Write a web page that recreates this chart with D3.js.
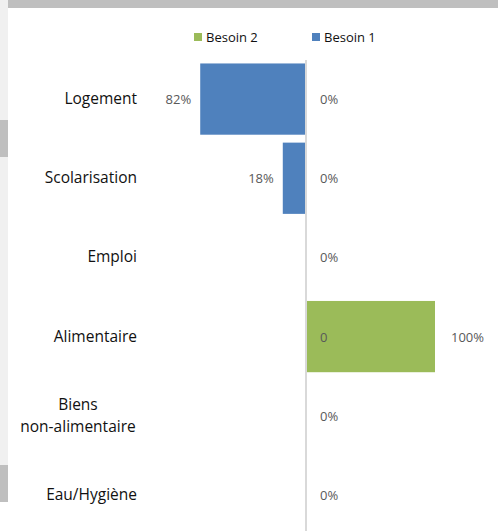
<!DOCTYPE html>
<html lang="fr">
<head>
<meta charset="utf-8">
<title>Besoins</title>
<script src="https://d3js.org/d3.v7.min.js"></script>
<style>
  body{margin:0;background:#fff;font-family:"Open Sans",sans-serif;}
  svg{display:block;}
</style>
</head>
<body>
<div id="chart"></div>
<script>
// data
var categories = ["Logement", "Scolarisation", "Emploi", "Alimentaire", "Biens\nnon-alimentaire", "Eau/Hygiène"]
var besoin1 = [82, 18, 0, 0, 0, 0]
var besoin2 = [0, 0, 0, 100, 0, 0]
var besoin1Labels = ["82%", "18%", "", "0", "", ""]
var besoin2Labels = ["0%", "0%", "0%", "100%", "0%", "0%"]
var legendItems = ["Besoin 2", "Besoin 1"]

var w = 498, h = 531
var blue = "#4f81bd", green = "#9bbb59"

var svg = d3.select("#chart").append("svg")
    .attr("width", w)
    .attr("height", h)

// frame bits around the chart area
svg.append("rect").attr("x", 0).attr("y", 0).attr("width", 8).attr("height", 502).attr("fill", "#f0f0f0")
svg.append("rect").attr("x", 0).attr("y", 120).attr("width", 8).attr("height", 37).attr("fill", "#bfbfbf")
svg.append("rect").attr("x", 0).attr("y", 465).attr("width", 8).attr("height", 37).attr("fill", "#bfbfbf")
svg.append("rect").attr("x", 8).attr("y", 0).attr("width", w - 8).attr("height", 8).attr("fill", "#bfbfbf")

var x = d3.scaleLinear().domain([-100, 100]).range([177, 435])
var y = d3.scaleBand().domain(categories).range([59.5, 534.5]).paddingInner(0.1).paddingOuter(0.05)

// left bars (Besoin 1)
svg.selectAll(".b1")
    .data(categories)
    .enter()
    .append("rect")
    .attr("class", "b1")
    .attr("x", function(d, i){ return x(-besoin1[i]) })
    .attr("y", function(d){ return y(d) })
    .attr("width", function(d, i){ return x(0) - x(-besoin1[i]) })
    .attr("height", y.bandwidth())
    .attr("fill", blue)

// right bars (Besoin 2)
svg.selectAll(".b2")
    .data(categories)
    .enter()
    .append("rect")
    .attr("class", "b2")
    .attr("x", x(0))
    .attr("y", function(d){ return y(d) })
    .attr("width", function(d, i){ return x(besoin2[i]) - x(0) })
    .attr("height", y.bandwidth())
    .attr("fill", green)

// centre axis
var axis = svg.append("g")
    .attr("transform", "translate(" + x(0) + ",0)")
    .call(d3.axisRight(y).tickSize(0).tickFormat(""))
axis.select(".domain").remove()
axis.append("line")
    .attr("x1", 0).attr("x2", 0)
    .attr("y1", 60).attr("y2", h)
    .attr("stroke", "#d9d9d9")
    .attr("stroke-width", 2)

// category labels
svg.selectAll(".cat")
    .data(categories)
    .enter()
    .append("text")
    .attr("class", "cat")
    .attr("text-anchor", "middle")
    .attr("font-size", "15.5px")
    .attr("fill", "#111")
    .each(function(d){
        var lines = d.split("\n")
        var t = d3.select(this)
        var cy = y(d) + y.bandwidth() / 2
        if (lines.length == 1) {
            t.attr("text-anchor", "end")
             .attr("x", 137)
             .attr("y", cy + 5)
             .text(d)
        } else {
            lines.forEach(function(l, j){
                t.append("tspan")
                 .attr("x", 78)
                 .attr("y", cy + 5 + (j - (lines.length - 1) / 2) * 22)
                 .text(l)
            })
        }
    })

// Besoin 1 labels
svg.selectAll(".l1")
    .data(categories)
    .enter()
    .append("text")
    .attr("class", "l1")
    .attr("font-size", "13px")
    .attr("fill", "#595959")
    .attr("text-anchor", function(d, i){ return besoin1[i] > 0 ? "end" : "start" })
    .attr("x", function(d, i){ return besoin1[i] > 0 ? x(-besoin1[i]) - 9 : x(0) + 14 })
    .attr("y", function(d){ return y(d) + y.bandwidth() / 2 + 5 })
    .text(function(d, i){ return besoin1Labels[i] })

// Besoin 2 labels
svg.selectAll(".l2")
    .data(categories)
    .enter()
    .append("text")
    .attr("class", "l2")
    .attr("font-size", "13px")
    .attr("fill", "#595959")
    .attr("x", function(d, i){ return besoin2[i] > 0 ? x(besoin2[i]) + 16 : x(0) + 14 })
    .attr("y", function(d){ return y(d) + y.bandwidth() / 2 + 5 })
    .text(function(d, i){ return besoin2Labels[i] })

// legend
var legend = svg.selectAll(".leg")
    .data(legendItems)
    .enter()
    .append("g")
    .attr("class", "leg")
    .attr("transform", function(d, i){ return "translate(" + (194 + i * 118) + ",33)" })
legend.append("rect")
    .attr("width", 8).attr("height", 8)
    .attr("fill", function(d, i){ return i == 0 ? green : blue })
legend.append("text")
    .attr("x", 12).attr("y", 9)
    .attr("font-size", "13px")
    .attr("fill", "#111")
    .text(function(d){ return d })
</script>
</body>
</html>
